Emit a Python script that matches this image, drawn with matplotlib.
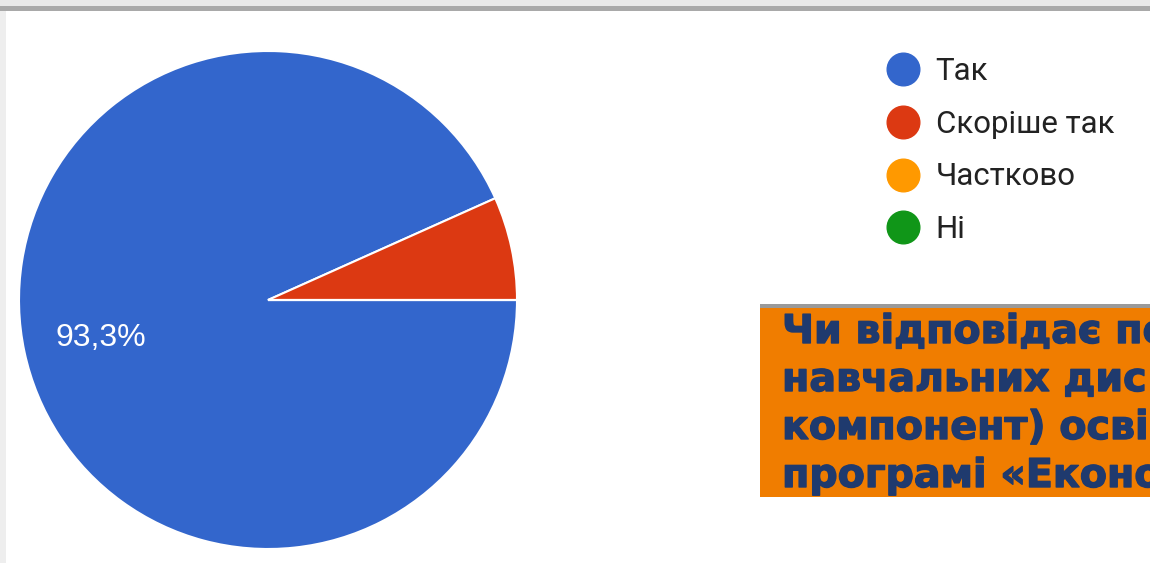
import matplotlib
matplotlib.use('Agg')
import matplotlib.pyplot as plt
import matplotlib.patheffects as pe
from matplotlib.lines import Line2D
from matplotlib.patches import Rectangle

# Дані діаграми
labels = ['Так', 'Скоріше так', 'Частково', 'Ні']
values = [93.3, 6.7, 0.0, 0.0]
colors = ['#3366CC', '#DC3912', '#FF9900', '#109618']

# текст питання (обрізаний правим краєм, як на скріншоті)
question_lines = [
    'Чи відповідає пе',
    'навчальних дис',
    'компонент) осві',
    'програмі «Еконо',
]

W, H = 1150, 563
fig = plt.figure(figsize=(W / 100, H / 100), dpi=100)
fig.patch.set_facecolor('white')

# рамка скріншоту зверху і зліва
fig.patches.append(Rectangle((0, (H - 6) / H), 1, 6 / H, transform=fig.transFigure,
                             facecolor='#e9e9e9', edgecolor='none', zorder=0))
fig.patches.append(Rectangle((0, (H - 11) / H), 1, 5 / H, transform=fig.transFigure,
                             facecolor='#a9a9a9', edgecolor='none', zorder=0))
fig.patches.append(Rectangle((0, 0), 6 / W, (H - 11) / H, transform=fig.transFigure,
                             facecolor='#eeeeee', edgecolor='none', zorder=0))

# кругова діаграма
cx, cy, r = 268, 300, 250
ax = fig.add_axes([(cx - r) / W, (H - cy - r) / H, 2 * r / W, 2 * r / H])


def fmt_pct(p):
    if p < 10:
        return ''
    return f'{p:.1f}%'.replace('.', ',')


wedges, texts, autotexts = ax.pie(values, colors=colors, startangle=0, counterclock=False,
                                  radius=0.996, autopct=fmt_pct, pctdistance=0.685,
                                  wedgeprops=dict(edgecolor='white', linewidth=1.5),
                                  textprops=dict(color='white', fontsize=23,
                                                 family='Liberation Sans'))
for t in autotexts:
    t.set_y(t.get_position()[1] - 0.01)
ax.set_xlim(-1, 1)
ax.set_ylim(-1, 1)

# легенда
handles = [Line2D([], [], marker='o', linestyle='none', markersize=23.5,
                  markerfacecolor=c, markeredgecolor=c) for c in colors]
fig.legend(handles, labels, loc='upper left', bbox_to_anchor=(871 / W, (H - 41) / H),
           frameon=False, labelspacing=0.765, handletextpad=0.5,
           handlelength=1.07, borderpad=0, labelcolor='#222222',
           prop=dict(family='Roboto', size=22.5))

# помаранчевий блок з питанням
bx0, by0, by1 = 760, 305, 497
fig.patches.append(Rectangle((bx0 / W, (H - by0 - 3) / H), (W - bx0) / W, 4 / H,
                             transform=fig.transFigure, facecolor='#9a9a9a',
                             edgecolor='none', zorder=1))
tax = fig.add_axes([bx0 / W, (H - by1) / H, (W - bx0) / W, (by1 - by0) / H])
tax.set_facecolor('#F07D00')
tax.set_xticks([])
tax.set_yticks([])
for s in tax.spines.values():
    s.set_visible(False)
tax.set_xlim(bx0, W)
tax.set_ylim(by1, by0)
for i, line in enumerate(question_lines):
    tax.text(782, 343 + i * 48, line, fontsize=28.5, fontweight='bold', family='DejaVu Sans',
             color='#1F3A6E', va='baseline', ha='left', clip_on=True,
             path_effects=[pe.withStroke(linewidth=1.0, foreground='#1F3A6E')])

fig.savefig('out.png', dpi=100, facecolor=fig.get_facecolor())
